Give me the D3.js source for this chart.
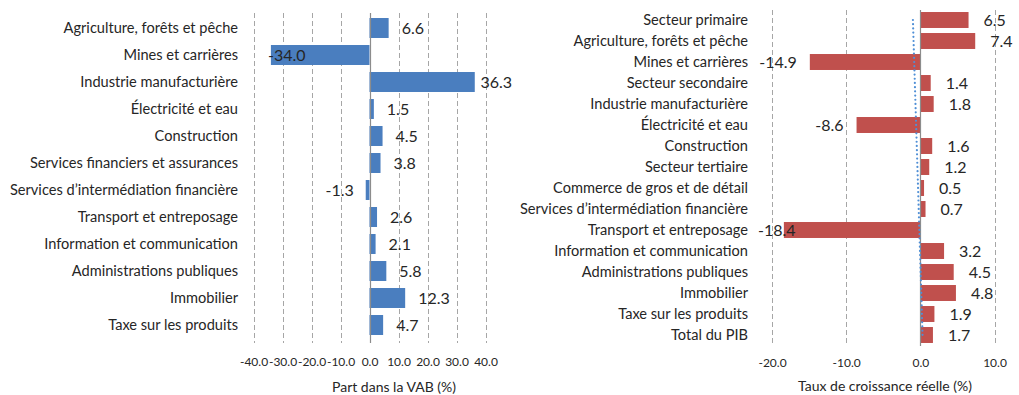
<!DOCTYPE html>
<html>
<head>
<meta charset="utf-8">
<script src="https://cdn.jsdelivr.net/npm/d3@7"></script>
<style>
  html, body { margin: 0; padding: 0; background: #fff; }
  svg { display: block; font-family: Lato, "Noto Sans", sans-serif; }
</style>
</head>
<body>
<svg id="chart" width="1019" height="395"></svg>
<script>
// Share of gross value added by sector (%)
const shareCategories = [
  "Agriculture, forêts et pêche",
  "Mines et carrières",
  "Industrie manufacturière",
  "Électricité et eau",
  "Construction",
  "Services financiers et assurances",
  "Services d’intermédiation financière",
  "Transport et entreposage",
  "Information et communication",
  "Administrations publiques",
  "Immobilier",
  "Taxe sur les produits"
];
const shareValues = [6.6, -34.0, 36.3, 1.5, 4.5, 3.8, -1.3, 2.6, 2.1, 5.8, 12.3, 4.7];
const shareTicks = [-40, -30, -20, -10, 0, 10, 20, 30, 40];

// Real growth rate by sector (%)
const growthCategories = [
  "Secteur primaire",
  "Agriculture, forêts et pêche",
  "Mines et carrières",
  "Secteur secondaire",
  "Industrie manufacturière",
  "Électricité et eau",
  "Construction",
  "Secteur tertiaire",
  "Commerce de gros et de détail",
  "Services d’intermédiation financière",
  "Transport et entreposage",
  "Information et communication",
  "Administrations publiques",
  "Immobilier",
  "Taxe sur les produits",
  "Total du PIB"
];
const growthValues = [6.5, 7.4, -14.9, 1.4, 1.8, -8.6, 1.6, 1.2, 0.5, 0.7, -18.4, 3.2, 4.5, 4.8, 1.9, 1.7];
const growthTicks = [-20, -10, 0, 10];
// dotted trend across the growth panel: value at first and last category
const growthTrend = [-1.0, 0.3];

const svg = d3.select("#chart");
// one decimal, plain hyphen for negatives
const fmt = d => d.toFixed(1);
const textColor = "#262626";

function panel(opts) {
  const g = svg.append("g");
  const x = d3.scaleLinear().domain(opts.domain).range(opts.xRange);
  const y = d3.scaleBand().domain(opts.categories).range(opts.yRange).paddingInner(opts.padding).paddingOuter(opts.padding / 2);
  const [gTop, gBottom] = opts.gridY;

  // vertical grid lines
  g.append("g").selectAll("line").data(opts.ticks.filter(t => t !== 0)).join("line")
    .attr("x1", d => Math.round(x(d)) + 0.5).attr("x2", d => Math.round(x(d)) + 0.5)
    .attr("y1", gTop).attr("y2", gBottom)
    .attr("stroke", "#a6a6a6").attr("stroke-width", 1).attr("stroke-dasharray", "5,3");

  // bars
  g.append("g").selectAll("rect").data(opts.values).join("rect")
    .attr("x", d => x(Math.min(0, d)))
    .attr("width", d => Math.abs(x(d) - x(0)))
    .attr("y", (d, i) => y(opts.categories[i]))
    .attr("height", y.bandwidth())
    .attr("fill", opts.color);

  // zero line
  g.append("line")
    .attr("x1", Math.round(x(0)) + 0.5).attr("x2", Math.round(x(0)) + 0.5)
    .attr("y1", gTop).attr("y2", gBottom)
    .attr("stroke", "#8c8c8c").attr("stroke-width", 1.2);

  // category labels
  g.append("g").selectAll("text").data(opts.categories).join("text")
    .attr("x", opts.labelX)
    .attr("y", d => y(d) + y.bandwidth() / 2)
    .attr("dy", "0.35em")
    .attr("text-anchor", "end")
    .attr("font-size", 14.6)
    .attr("fill", textColor)
    .text(d => d);

  // value labels
  const vl = g.append("g").selectAll("text").data(opts.values).join("text")
    .attr("y", (d, i) => y(opts.categories[i]) + y.bandwidth() / 2)
    .attr("dy", "0.36em")
    .attr("font-size", 16)
    .attr("fill", textColor)
    .text(d => fmt(d));
  vl.each(function(d) {
    const w = this.getComputedTextLength();
    let sx;
    if (d >= 0) {
      sx = Math.min(x(d) + opts.posGap, opts.maxRight - w);
    } else {
      sx = Math.max(x(d) - opts.negGap - w, opts.minLeft);
    }
    d3.select(this).attr("x", sx);
  });

  // axis tick labels
  const axis = d3.axisBottom(x).tickValues(opts.ticks).tickFormat(fmt).tickSize(0).tickPadding(0);
  const ag = g.append("g").attr("transform", `translate(0,${opts.tickY})`).call(axis);
  ag.select(".domain").remove();
  ag.selectAll("text").attr("font-size", 12).attr("fill", textColor)
    .attr("font-family", "Lato, 'Noto Sans', sans-serif").attr("dy", "0.35em").attr("y", 0);

  // axis title
  g.append("text")
    .attr("x", opts.titleX).attr("y", opts.titleY)
    .attr("text-anchor", "middle")
    .attr("font-size", 14)
    .attr("fill", textColor)
    .text(opts.title);

  return { x, y, g };
}

panel({
  categories: shareCategories, values: shareValues, ticks: shareTicks,
  domain: [-40, 40], xRange: [253.5, 485.5],
  yRange: [14.5, 338.5], padding: 0.26,
  gridY: [13, 343],
  color: "#4a7ebf",
  labelX: 238,
  posGap: 13, negGap: 12, minLeft: 268, maxRight: 512,
  tickY: 362,
  title: "Part dans la VAB (%)", titleX: 394, titleY: 392
});

const right = panel({
  categories: growthCategories, values: growthValues, ticks: growthTicks,
  domain: [-20, 10], xRange: [772, 994.5],
  yRange: [9.5, 345.5], padding: 0.24,
  gridY: [10, 346],
  color: "#c0504d",
  labelX: 748,
  posGap: 15, negGap: 13, minLeft: 758, maxRight: 1017,
  tickY: 363,
  title: "Taux de croissance réelle (%)", titleX: 885, titleY: 391
});

// dotted trend line drawn over the growth bars
const ry = right.y, rx = right.x;
const ends = [growthCategories[0], growthCategories[growthCategories.length - 1]];
right.g.append("path")
  .datum(growthTrend.map((v, i) => [rx(v), ry(ends[i]) + ry.bandwidth() / 2]))
  .attr("d", d3.line())
  .attr("fill", "none")
  .attr("stroke", "#4f8fd6")
  .attr("stroke-width", 2.2)
  .attr("stroke-linecap", "round")
  .attr("stroke-dasharray", "0,4.2");
</script>
</body>
</html>
